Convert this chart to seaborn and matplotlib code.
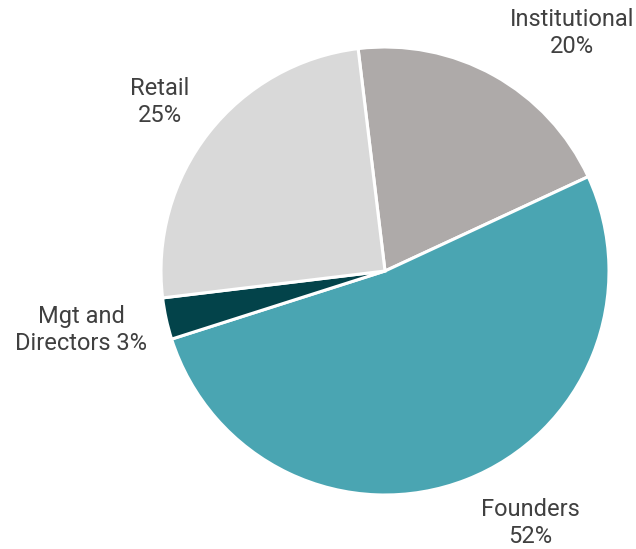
import matplotlib
matplotlib.use("Agg")
import matplotlib.pyplot as plt
import seaborn as sns

# shareholder split, clockwise from the top
categories = ["Institutional", "Founders", "Mgt and\nDirectors", "Retail"]
shares = [20, 52, 3, 25]
slice_colors = ["#aeaaa9", "#4aa5b2", "#03434a", "#d9d9d9"]

sns.set_theme(style="white")
plt.rcParams['font.family'] = ['Roboto', 'DejaVu Sans']

W, H = 636, 549
cx, cy, r = 385, 271, 224   # pie centre / radius in pixels

fig = plt.figure(figsize=(W / 100, H / 100), dpi=100)
ax = fig.add_axes([0, 0, 1, 1])

palette = sns.color_palette(slice_colors)
wedges, _ = ax.pie(shares, colors=palette, startangle=96.9, counterclock=False,
                   radius=1, center=(0, 0),
                   wedgeprops=dict(edgecolor="white", linewidth=2.2))

ax.set_xlim(-cx / r, (W - cx) / r)
ax.set_ylim(-(H - cy) / r, cy / r)
ax.set_aspect("auto")
ax.axis("off")

# label spots (pixel centre of each text block)
label_px = [(572, 33), (530, 523), (81, 330), (160, 102)]
for name, val, (px, py) in zip(categories, shares, label_px):
    if "\n" in name:
        txt = f"{name} {val}%"
    else:
        txt = f"{name}\n{val}%"
    ax.text((px - cx) / r, (cy - py) / r, txt, ha="center", va="center",
            fontsize=17, color="#404040", linespacing=1.2)

fig.savefig("out.png", dpi=100)
